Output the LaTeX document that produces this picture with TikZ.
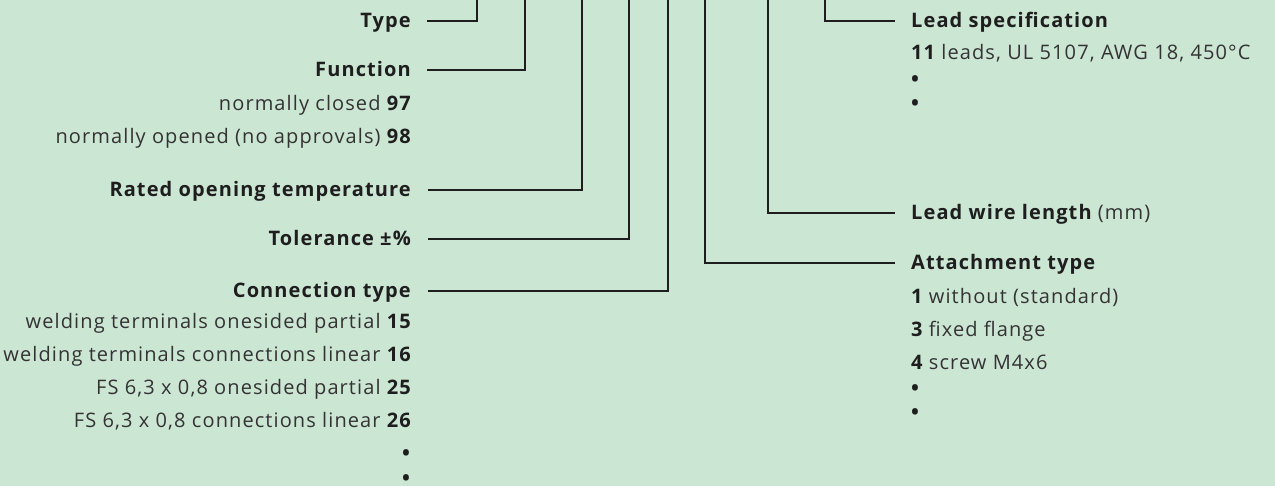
\documentclass[tikz,border=0pt]{standalone}
\usepackage{fontspec}
\setmainfont{Open Sans}[LetterSpace=5.5]
\usetikzlibrary{calc}
\definecolor{bggreen}{HTML}{CCE6D4}
\definecolor{inkdark}{HTML}{1E1E1E}
\definecolor{inkgray}{HTML}{333333}
\newcommand{\bnum}[1]{{\bfseries\color{inkdark}#1}}
\newcommand{\listdot}{\smash{\raisebox{-0.36em}{\textbullet}}}

\begin{document}
\begin{tikzpicture}[
			x=1pt, y=-1pt,
			lbl/.style={inner sep=0pt, text height=14pt, text depth=0pt,
				font=\fontsize{20}{24}\selectfont, text=inkgray},
			head/.style={lbl, font=\fontsize{20}{24}\selectfont\bfseries, text=inkdark},
			dot/.style={inner sep=0pt, font=\fontsize{21}{21}\selectfont\bfseries, text=inkdark},
			lft/.style={anchor=east},
			rgt/.style={anchor=west},
			lead/.style={draw=inkdark, line width=1.8pt}
			]
			% background
			\fill[bggreen] (0,0) rectangle (1275,486);
			\useasboundingbox (0,0) rectangle (1275,486);
			
			% upper ends of the leader lines (they leave the picture at the top)
			\coordinate (tType) at (477,0);
			\coordinate (tFunc) at (525,0);
			\coordinate (tTemp) at (582,0);
			\coordinate (tTol)  at (629,0);
			\coordinate (tConn) at (668,0);
			\coordinate (tAtt)  at (705,0);
			\coordinate (tLen)  at (768,0);
			\coordinate (tSpec) at (825,0);
			
			% left column
			\node[head,lft] (type) at (411,21)  {Type};
			\node[head,lft] (func) at (411,70)  {Function};
			\node[lbl,lft]  (nc)   at (411,104) {normally closed \bnum{97}};
			\node[lbl,lft]  (no)   at (411,137) {normally opened (no approvals) \bnum{98}};
			\node[head,lft] (temp) at (411,190) {Rated opening temperature};
			\node[head,lft] (tol)  at (411,239) {Tolerance ±\%};
			\node[head,lft] (conn) at (411,291) {Connection type};
			\node[lbl,lft]  (w15)  at (411,322) {welding terminals onesided partial \bnum{15}};
			\node[lbl,lft]  (w16)  at (411,355) {welding terminals connections linear \bnum{16}};
			\node[lbl,lft]  (fs25) at (411,388) {FS 6,3 x 0,8 onesided partial \bnum{25}};
			\node[lbl,lft]  (fs26) at (411,421) {FS 6,3 x 0,8 connections linear \bnum{26}};
			\node[dot] (ldot1) at (406,453) {\listdot};
			\node[dot] (ldot2) at (406,478) {\listdot};
			
			% right column
			\node[head,rgt] (spec) at (911,21)  {Lead specification};
			\node[lbl,rgt]  (s11)  at (911,53)  {\bnum{11} leads, UL 5107, AWG 18, 450°C};
			\node[dot] (rdot1) at (915,79)  {\listdot};
			\node[dot] (rdot2) at (915,103) {\listdot};
			\node[head,rgt] (len)  at (911,213) {Lead wire length \mdseries\color{inkgray}(mm)};
			\node[head,rgt] (att)  at (911,263) {Attachment type};
			\node[lbl,rgt]  (a1)   at (911,297) {\bnum{1} without (standard)};
			\node[lbl,rgt]  (a3)   at (911,330) {\bnum{3} fixed flange};
			\node[lbl,rgt]  (a4)   at (911,363) {\bnum{4} screw M4x6};
			\node[dot] (rdot3) at (915,388) {\listdot};
			\node[dot] (rdot4) at (915,412) {\listdot};
			
			% leader lines, left
			\draw[lead] ([xshift=16pt]type.east) -| (tType);
			\draw[lead] ([xshift=16pt]func.east) -| (tFunc);
			\draw[lead] ([xshift=17pt]temp.east) -| (tTemp);
			\draw[lead] ([xshift=17pt]tol.east)  -| (tTol);
			\draw[lead] ([xshift=17pt]conn.east) -| (tConn);
			
			% leader lines, right
			\draw[lead] (tSpec) |- ([xshift=-16pt]spec.west);
			\draw[lead] (tLen)  |- ([xshift=-16pt]len.west);
			\draw[lead] (tAtt)  |- ([xshift=-16pt]att.west);
			
		\end{tikzpicture}
\end{document}
